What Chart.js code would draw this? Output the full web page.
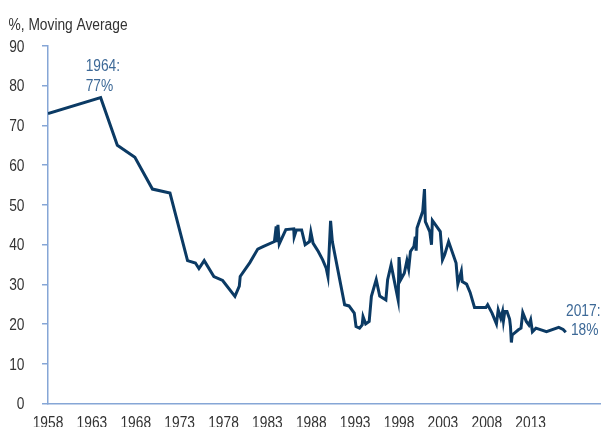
<!DOCTYPE html>
<html>
<head>
<meta charset="utf-8">
<script src="https://cdn.jsdelivr.net/npm/chart.js@4/dist/chart.umd.min.js"></script>
<style>
  html, body { margin: 0; padding: 0; background: #fff; overflow: hidden; }
</style>
</head>
<body>
<canvas id="chart" width="602" height="427"></canvas>
<script>
const FONT = '16px "Liberation Sans", Arial, sans-serif';
const SQUEEZE = 0.86; // condensed look for all labels
const LINE_COLOR = '#0b3a64';
const AXIS_COLOR = '#86a6d6';
const NOTE_COLOR = '#3d6997';
const TEXT_COLOR = '#333';

// moving average share, %
const YEARS = [
  1958.0, 1964.0, 1965.9, 1967.9, 1969.9, 1971.9, 1973.9, 1974.8, 1975.2, 1975.8,
  1976.9, 1977.9, 1979.3, 1979.8, 1979.9, 1981.0, 1981.9, 1982.5, 1983.8, 1984.0,
  1984.1, 1984.2, 1984.35, 1985.1, 1986.0, 1986.05, 1986.3, 1986.9, 1987.3, 1987.8,
  1987.95, 1988.2, 1988.8, 1989.3, 1989.7, 1989.9, 1990.2, 1990.4, 1991.8, 1992.3,
  1992.9, 1993.1, 1993.5, 1993.8, 1993.9, 1994.2, 1994.6, 1994.85, 1995.4, 1995.8,
  1996.5, 1996.7, 1997.1, 1997.4, 1997.9, 1998.0, 1998.2, 1998.6, 1998.9, 1999.1,
  1999.3, 1999.7, 1999.85, 1999.95, 2000.05, 2000.7, 2000.9, 2001.0, 2001.5, 2001.7,
  2001.8, 2002.7, 2002.95, 2003.2, 2003.65, 2004.5, 2004.7, 2005.1, 2005.2, 2005.7,
  2006.1, 2006.6, 2007.9, 2008.1, 2008.6, 2009.1, 2009.3, 2009.6, 2009.8, 2009.9,
  2010.05, 2010.3, 2010.6, 2010.7, 2010.8, 2010.9, 2011.6, 2011.9, 2012.1, 2012.5,
  2012.8, 2013.0, 2013.2, 2013.6, 2014.8, 2016.2, 2016.7, 2017.0
];
const SHARE = [
  73, 77, 65, 62, 54, 53, 36, 35.4, 34, 36,
  32, 31, 27, 29.6, 32, 35.5, 38.9, 39.5, 40.8, 44.6,
  41, 45, 40.2, 43.8, 44, 42, 43.7, 43.7, 40, 40.8,
  43.2, 40.4, 38.3, 36.2, 34.1, 32, 46, 40.8, 24.9, 24.6,
  22.8, 19.4, 19, 19.8, 21.9, 20.1, 20.7, 27, 31.2, 27.1,
  26.1, 31.2, 35, 31.6, 26.1, 36.9, 31.2, 32.8, 36, 33.9,
  38.3, 39.6, 42, 38.5, 44.2, 48.4, 54, 45.8, 43.3, 40,
  46.1, 43.3, 36.2, 37.5, 40.8, 35.4, 30.1, 33.3, 30.7, 30.1,
  28, 24.2, 24.2, 24.9, 22.8, 20.1, 23.6, 21.5, 23.2, 20.9,
  23.2, 23.2, 21.3, 19.4, 15.4, 17.3, 18.6, 19, 22.9, 20.7,
  19.8, 21.1, 18.1, 19, 18.1, 19.2, 18.7, 18
];
const TICK_YEARS = [1958, 1963, 1968, 1973, 1978, 1983, 1988, 1993, 1998, 2003, 2008, 2013];
const Y_TICKS = [0, 10, 20, 30, 40, 50, 60, 70, 80, 90];

// callouts: [year, value, line 1, line 2]
const FIRST_NOTE = [1964, 77, '1964:', '77%'];
const LAST_NOTE = [2017, 18, '2017:', '18%'];

function squeezedText(ctx, text, x, y, align) {
  ctx.save();
  ctx.translate(x, y);
  ctx.scale(SQUEEZE, 1);
  ctx.textAlign = align;
  ctx.fillText(text, 0, 0);
  ctx.restore();
}

const labelsPlugin = {
  id: 'labels',
  afterDraw(chart) {
    const { ctx, scales: { x, y }, chartArea } = chart;
    ctx.save();
    ctx.font = FONT;
    ctx.textBaseline = 'alphabetic';
    ctx.fillStyle = TEXT_COLOR;

    squeezedText(ctx, '%, Moving Average', 8.5, 29.5, 'left');

    y.ticks.forEach(t => {
      squeezedText(ctx, String(t.value), 24.5, y.getPixelForValue(t.value) + 5.75, 'right');
    });
    x.ticks.forEach(t => {
      squeezedText(ctx, String(t.value), x.getPixelForValue(t.value), chartArea.bottom + 24.5, 'center');
    });

    ctx.fillStyle = NOTE_COLOR;
    const fx = x.getPixelForValue(FIRST_NOTE[0]);
    const fy = y.getPixelForValue(FIRST_NOTE[1]);
    squeezedText(ctx, FIRST_NOTE[2], fx - 15, fy - 27, 'left');
    squeezedText(ctx, FIRST_NOTE[3], fx - 15, fy - 7, 'left');

    const ly = y.getPixelForValue(LAST_NOTE[1]);
    squeezedText(ctx, LAST_NOTE[2], chartArea.right + 0.5, ly - 16, 'right');
    squeezedText(ctx, LAST_NOTE[3], chartArea.right - 1.5, ly + 3, 'right');
    ctx.restore();
  }
};

new Chart(document.getElementById('chart').getContext('2d'), {
  type: 'line',
  data: {
    datasets: [{
      data: YEARS.map((yr, i) => ({ x: yr, y: SHARE[i] })),
      borderColor: LINE_COLOR,
      borderWidth: 3,
      pointRadius: 0,
      tension: 0,
      fill: false
    }]
  },
  options: {
    responsive: false,
    animation: false,
    devicePixelRatio: 1,
    layout: { padding: { top: 46, right: 2, left: 0, bottom: 0 } },
    plugins: {
      legend: { display: false },
      tooltip: { enabled: false }
    },
    scales: {
      x: {
        type: 'linear',
        min: 1958,
        max: 2020.9,
        afterBuildTicks: scale => { scale.ticks = TICK_YEARS.map(v => ({ value: v })); },
        afterFit: scale => { scale.height = 23.3; },
        grid: { drawOnChartArea: false, drawTicks: false },
        border: { color: AXIS_COLOR, width: 1.5 },
        ticks: { display: false }
      },
      y: {
        min: 0,
        max: 90,
        afterBuildTicks: scale => { scale.ticks = Y_TICKS.map(v => ({ value: v })); },
        afterFit: scale => { scale.width = 48; },
        grid: { drawOnChartArea: false, drawTicks: true, tickLength: 6, color: AXIS_COLOR, lineWidth: 1.5 },
        border: { color: AXIS_COLOR, width: 1.5 },
        ticks: { display: false }
      }
    }
  },
  plugins: [labelsPlugin]
});
</script>
</body>
</html>
